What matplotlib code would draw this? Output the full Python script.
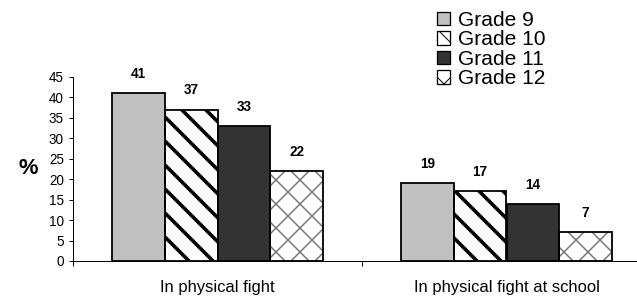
import matplotlib
matplotlib.use("Agg")
import matplotlib.pyplot as plt
import numpy as np

categories = ["In physical fight", "In physical fight at school"]
grades = ["Grade 9", "Grade 10", "Grade 11", "Grade 12"]
values = {
    "Grade 9": [41, 19],
    "Grade 10": [37, 17],
    "Grade 11": [33, 14],
    "Grade 12": [22, 7],
}
yticks = [0, 5, 10, 15, 20, 25, 30, 35, 40, 45]

plt.rcParams['font.family'] = ['Liberation Sans', 'DejaVu Sans']

DPI = 72
fig = plt.figure(figsize=(637 / DPI, 297 / DPI), dpi=DPI)
ax = fig.add_axes([73 / 637, 36 / 297, (637 - 73) / 637, (261 - 77) / 297])

x = np.arange(len(categories))
w = 0.1825
offsets = [-1.5, -0.5, 0.5, 1.5]

styles = {
    "Grade 9": dict(face="#c0c0c0", hatch=None, hcolor=None, hlw=1.0),
    "Grade 10": dict(face="white", hatch="\\", hcolor="black", hlw=3.6),
    "Grade 11": dict(face="#333333", hatch=None, hcolor=None, hlw=1.0),
    "Grade 12": dict(face="white", hatch="x", hcolor="#777777", hlw=1.5),
}

handles = []
for g, off in zip(grades, offsets):
    st = styles[g]
    xs = x + off * w
    vals = values[g]
    if st["hatch"]:
        with plt.rc_context({"hatch.linewidth": st["hlw"]}):
            ax.bar(xs, vals, w, color=st["face"], edgecolor=st["hcolor"],
                   hatch=st["hatch"], linewidth=0, zorder=2)
    ax.bar(xs, vals, w, facecolor=("none" if st["hatch"] else st["face"]),
           edgecolor="black", linewidth=1.8, zorder=3)
    with plt.rc_context({"hatch.linewidth": 1.5}):
        h = plt.Rectangle((0, 0), 1, 1, facecolor=st["face"], edgecolor="black",
                          linewidth=1.3, hatch=st["hatch"])
    handles.append(h)
    for xi, v in zip(xs, vals):
        ax.text(xi, v + 4.7, str(v), ha="center", va="center",
                fontsize=13.5, fontweight="bold")

ax.set_ylim(0, 45)
ax.set_xlim(-0.5, (637 - 217.5) / 289)
ax.set_yticks(yticks)
ax.set_yticklabels([str(t) for t in yticks], fontsize=13.5)
ax.set_xticks([-0.5, 0.5])
ax.set_xticklabels(["", ""])
ax.tick_params(axis="y", direction="out", length=4, width=1, pad=5)
ax.tick_params(axis="x", direction="out", length=5, width=1)
for s in ["top", "right"]:
    ax.spines[s].set_visible(False)
for s in ["left", "bottom"]:
    ax.spines[s].set_linewidth(1)

for xi, c in zip(x, categories):
    ax.text(xi, -6.6, c, ha="center", va="center", fontsize=16.5)

fig.text(28 / 637, 1 - 168 / 297, "%", ha="center", va="center",
         fontsize=22, fontweight="bold")

fig.legend(handles, grades, loc="upper left",
           bbox_to_anchor=(437 / 637, 1 - 11 / 297),
           frameon=False, fontsize=21, labelspacing=0.02,
           handlelength=0.62, handleheight=0.62, handletextpad=0.4,
           borderpad=0.0, borderaxespad=0.0)

fig.savefig("out.png", dpi=DPI)
